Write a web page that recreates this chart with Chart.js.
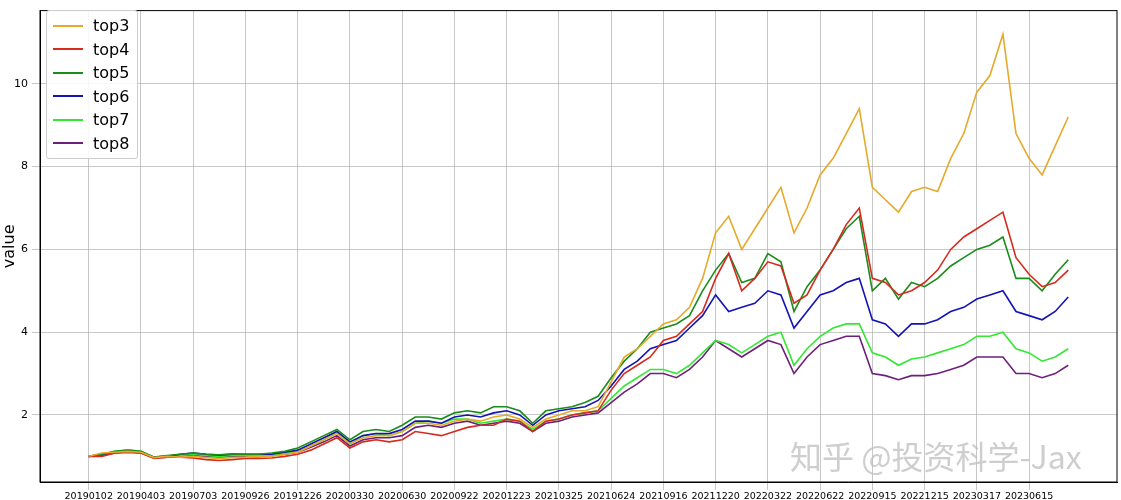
<!DOCTYPE html>
<html><head><meta charset="utf-8">
<script src="https://cdn.jsdelivr.net/npm/chart.js@4"></script>
<style>
body{margin:0;background:#fff;font-family:"DejaVu Sans",sans-serif}
#wrap{position:relative;width:1121px;height:500px}
#legend{position:absolute;left:46px;top:10px;border:1px solid #ccc;border-radius:3px;background:rgba(255,255,255,0.85);padding:3px 8px 3px 6px;font-size:16px;line-height:23.5px}
#legend div{display:flex;align-items:center}
#legend span.l{display:inline-block;width:30px;height:2px;margin-right:10px}
#wm{position:absolute;left:790px;top:432px;font-size:32px;color:rgba(190,190,190,0.75);font-family:"Noto Sans CJK SC",sans-serif}
</style></head><body>
<div id="wrap"><canvas id="c" width="1121" height="500"></canvas>
<div id="legend"></div>
<div id="wm">知乎 @投资科学-Jax</div></div>
<script>
const tickLabels=["20190102","20190403","20190703","20190926","20191226","20200330","20200630","20200922","20201223","20210325","20210624","20210916","20211220","20220322","20220622","20220915","20221215","20230317","20230615"];
const seriesNames=["top3","top4","top5","top6","top7","top8"];
const top3=[1.0,1.08,1.1,1.12,1.1,0.97,1.0,0.98,1.0,0.97,0.95,0.97,0.98,1.0,1.0,1.05,1.1,1.25,1.4,1.55,1.3,1.45,1.5,1.5,1.6,1.8,1.8,1.75,1.85,1.9,1.85,1.95,2.0,1.9,1.7,1.9,2.0,2.1,2.1,2.2,2.8,3.4,3.6,3.9,4.2,4.3,4.6,5.3,6.4,6.8,6.0,6.5,7.0,7.5,6.4,7.0,7.8,8.2,8.8,9.4,7.5,7.2,6.9,7.4,7.5,7.4,8.2,8.8,9.8,10.2,11.2,8.8,8.2,7.8,8.5,9.2];
const top4=[1.0,1.0,1.08,1.1,1.08,0.95,0.98,0.98,0.96,0.92,0.9,0.92,0.95,0.95,0.96,1.0,1.05,1.15,1.3,1.45,1.2,1.35,1.4,1.35,1.4,1.6,1.55,1.5,1.6,1.7,1.75,1.75,1.9,1.85,1.6,1.85,1.9,2.0,2.05,2.1,2.6,3.0,3.2,3.4,3.8,3.9,4.2,4.5,5.3,5.9,5.0,5.3,5.7,5.6,4.7,4.9,5.5,6.0,6.6,7.0,5.3,5.2,4.9,5.0,5.2,5.5,6.0,6.3,6.5,6.7,6.9,5.8,5.4,5.1,5.2,5.5];
const top5=[1.0,1.05,1.12,1.15,1.12,0.98,1.02,1.05,1.08,1.05,1.04,1.06,1.05,1.05,1.08,1.12,1.2,1.35,1.5,1.65,1.4,1.6,1.65,1.6,1.75,1.95,1.95,1.9,2.05,2.1,2.05,2.2,2.2,2.1,1.8,2.1,2.15,2.2,2.3,2.45,2.9,3.3,3.6,4.0,4.1,4.2,4.4,5.0,5.5,5.9,5.2,5.3,5.9,5.7,4.5,5.1,5.5,6.0,6.5,6.8,5.0,5.3,4.8,5.2,5.1,5.3,5.6,5.8,6.0,6.1,6.3,5.3,5.3,5.0,5.4,5.75];
const top6=[1.0,1.05,1.1,1.12,1.1,0.98,1.0,1.05,1.08,1.05,1.03,1.05,1.05,1.05,1.05,1.1,1.15,1.3,1.45,1.6,1.35,1.5,1.55,1.55,1.65,1.85,1.85,1.8,1.95,2.0,1.95,2.05,2.1,2.0,1.75,2.0,2.1,2.15,2.2,2.35,2.7,3.1,3.3,3.6,3.7,3.8,4.1,4.4,4.9,4.5,4.6,4.7,5.0,4.9,4.1,4.5,4.9,5.0,5.2,5.3,4.3,4.2,3.9,4.2,4.2,4.3,4.5,4.6,4.8,4.9,5.0,4.5,4.4,4.3,4.5,4.85];
const top7=[1.0,1.05,1.12,1.15,1.12,0.98,1.0,1.02,1.05,1.02,1.0,1.02,1.02,1.02,1.03,1.08,1.12,1.25,1.4,1.6,1.3,1.5,1.55,1.5,1.6,1.8,1.85,1.8,1.9,1.9,1.8,1.85,1.9,1.85,1.65,1.85,1.9,2.0,2.05,2.1,2.4,2.7,2.9,3.1,3.1,3.0,3.2,3.5,3.8,3.7,3.5,3.7,3.9,4.0,3.2,3.6,3.9,4.1,4.2,4.2,3.5,3.4,3.2,3.35,3.4,3.5,3.6,3.7,3.9,3.9,4.0,3.6,3.5,3.3,3.4,3.6];
const top8=[1.0,1.02,1.08,1.1,1.08,0.96,0.98,1.0,1.02,1.0,0.98,1.0,1.0,1.0,1.02,1.05,1.1,1.22,1.35,1.5,1.25,1.4,1.45,1.45,1.5,1.7,1.75,1.7,1.8,1.85,1.75,1.8,1.85,1.8,1.6,1.8,1.85,1.95,2.0,2.05,2.3,2.55,2.75,3.0,3.0,2.9,3.1,3.4,3.8,3.6,3.4,3.6,3.8,3.7,3.0,3.4,3.7,3.8,3.9,3.9,3.0,2.95,2.85,2.95,2.95,3.0,3.1,3.2,3.4,3.4,3.4,3.0,3.0,2.9,3.0,3.2];
const colors=["#e6a92a","#d62a1e","#1a8c1a","#1414b4","#33e833","#6e1f7c"];
const all=[top3,top4,top5,top6,top7,top8];
const step=15, tickStep=60;
const datasets=all.map((arr,j)=>({label:seriesNames[j],data:arr.map((v,i)=>({x:i*step,y:v})),borderColor:colors[j],borderWidth:1.6,pointRadius:0,tension:0,fill:false}));
const lg=document.getElementById('legend');
seriesNames.forEach((n,j)=>{const d=document.createElement('div');d.innerHTML='<span class="l" style="background:'+colors[j]+'"></span>'+n;lg.appendChild(d);});
const grid={color:'rgba(176,176,176,0.7)',lineWidth:1};
new Chart(document.getElementById('c'),{type:'line',data:{datasets},
options:{responsive:false,animation:false,layout:{padding:{top:5,right:4,left:0,bottom:0}},
plugins:{legend:{display:false},tooltip:{enabled:false}},
scales:{
x:{type:'linear',min:-56,max:1181,grid:grid,border:{color:'#000'},
 afterBuildTicks:s=>{s.ticks=tickLabels.map((t,i)=>({value:i*tickStep}));},
 afterFit:s=>{s.height=18;},
 ticks:{autoSkip:false,maxRotation:0,color:'#000',font:{size:9.5,family:'DejaVu Sans'},padding:1,callback:(v)=>tickLabels[Math.round(v/tickStep)]}},
y:{min:0.38,max:11.77,grid:grid,border:{color:'#000'},
 afterBuildTicks:s=>{s.ticks=[2,4,6,8,10].map(v=>({value:v}));},
 afterFit:s=>{s.width=40;},
 title:{display:true,text:'value',font:{size:16,family:'DejaVu Sans'},color:'#000',padding:0},
 ticks:{color:'#000',font:{size:11,family:'DejaVu Sans'},padding:4}}}},
plugins:[{id:'box',afterDraw(c){const a=c.chartArea,x=c.ctx;x.save();x.strokeStyle='#000';x.lineWidth=1;x.strokeRect(a.left,a.top,a.right-a.left,a.bottom-a.top);x.restore();}}]
});
</script></body></html>
